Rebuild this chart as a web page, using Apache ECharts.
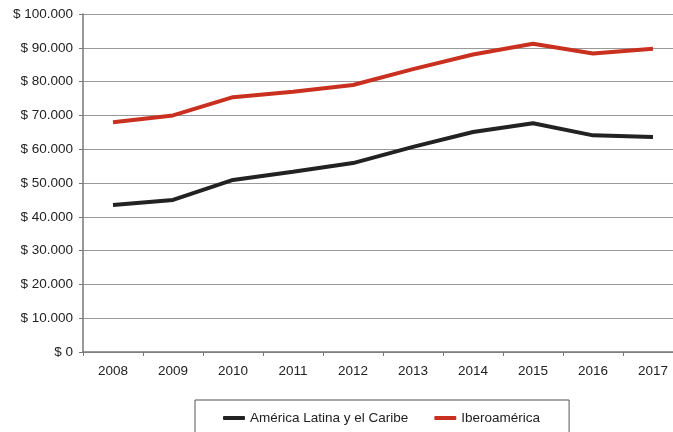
<!DOCTYPE html>
<html>
<head>
<meta charset="utf-8">
<script src="https://cdn.jsdelivr.net/npm/echarts@6/dist/echarts.min.js"></script>
<style>
  html, body { margin: 0; padding: 0; background: #fff; }
  #chart { width: 673px; height: 432px; }
</style>
</head>
<body>
<div id="chart"></div>
<script>
// categorías (años)
var years = ['2008', '2009', '2010', '2011', '2012', '2013', '2014', '2015', '2016', '2017'];
// series
var americaLatina = [43500, 45000, 50900, 53300, 55900, 60700, 65100, 67700, 64100, 63600];
var iberoamerica = [68000, 70000, 75400, 77000, 79000, 83700, 88000, 91200, 88300, 89700];
var seriesNames = ['América Latina y el Caribe', 'Iberoamérica'];

var chart = echarts.init(document.getElementById('chart'));

function fmt(v) {
  // formato con punto de miles
  var s = String(v).replace(/\B(?=(\d{3})+(?!\d))/g, '.');
  return '$ ' + s;
}

var option = {
  animation: false,
  textStyle: { fontFamily: 'Liberation Sans, Arial, sans-serif' },
  grid: { left: 83, width: 600, top: 14, bottom: 80, outerBoundsMode: 'none' },
  legend: {
    data: seriesNames,
    top: 400,
    left: 195,
    padding: [11, 29, 20, 28],
    itemGap: 26,
    itemWidth: 22,
    itemHeight: 4,
    icon: 'roundRect',
    borderColor: '#555',
    borderWidth: 1,
    textStyle: { fontSize: 13.5, color: '#222' }
  },
  xAxis: {
    type: 'category',
    data: years,
    boundaryGap: true,
    axisLine: { lineStyle: { color: '#777', width: 1.5 } },
    axisTick: { show: true, length: 4, lineStyle: { color: '#777' } },
    axisLabel: { fontSize: 13.5, color: '#222', margin: 12 }
  },
  yAxis: {
    type: 'value',
    min: 0,
    max: 100000,
    interval: 10000,
    axisLine: { show: true, lineStyle: { color: '#777', width: 1.5 } },
    axisTick: { show: true, length: 4, lineStyle: { color: '#777' } },
    splitLine: { lineStyle: { color: '#999', width: 1.2 } },
    axisLabel: { fontSize: 13.5, color: '#222', margin: 10, formatter: fmt }
  },
  series: [
    {
      name: seriesNames[0],
      type: 'line',
      data: americaLatina,
      showSymbol: false,
      symbol: 'none',
      itemStyle: { color: '#222' },
      lineStyle: { color: '#222', width: 4 }
    },
    {
      name: seriesNames[1],
      type: 'line',
      data: iberoamerica,
      showSymbol: false,
      symbol: 'none',
      itemStyle: { color: '#c9301f' },
      lineStyle: { color: '#c9301f', width: 4 }
    }
  ]
};

chart.setOption(option);
</script>
</body>
</html>
